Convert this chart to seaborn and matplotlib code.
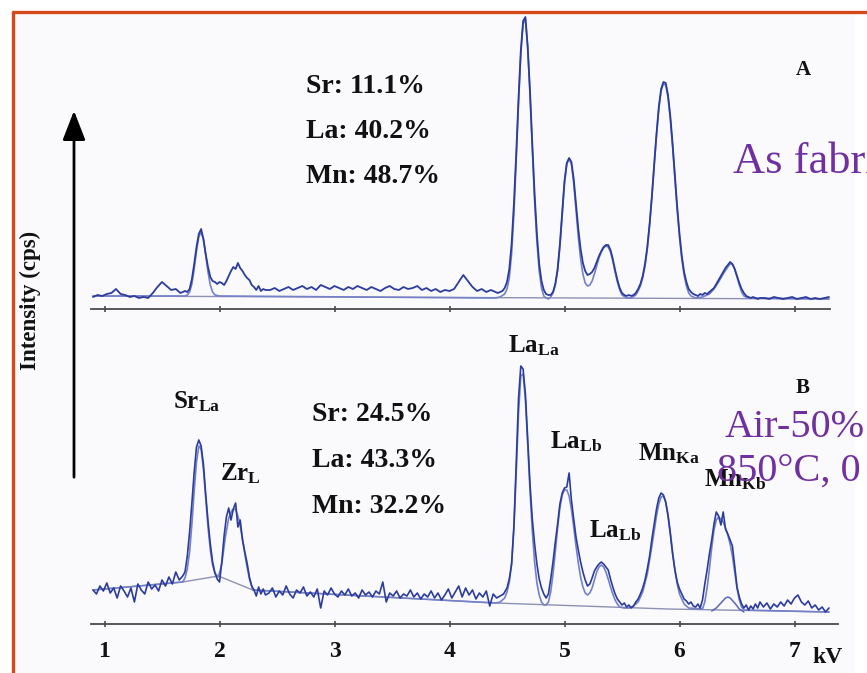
import matplotlib
matplotlib.use("Agg")
import matplotlib.pyplot as plt
from matplotlib.lines import Line2D
from matplotlib.patches import FancyArrowPatch, Rectangle
import seaborn as sns

# ---------------- data (energy in kV, intensity in arbitrary counts) ----------------
# Panel A (as fabricated) - measured spectrum
a_kv = [
    0.90, 0.94, 0.98, 1.02, 1.06, 1.10, 1.14, 1.18, 1.22, 1.26,
    1.30, 1.34, 1.38, 1.42, 1.46, 1.50, 1.54, 1.58, 1.62, 1.66,
    1.70,
    1.72, 1.74, 1.76, 1.78, 1.80, 1.82, 1.84, 1.86, 1.88, 1.90,
    1.92, 1.94, 1.96, 1.98, 2.00, 2.02, 2.04, 2.06, 2.08, 2.10,
    2.12, 2.14, 2.16, 2.18, 2.20, 2.22, 2.24, 2.26, 2.28, 2.30,
    2.32, 2.34, 2.36, 2.38, 2.40,
    2.44, 2.48, 2.52, 2.56, 2.60, 2.64, 2.68, 2.72, 2.76, 2.80,
    2.84, 2.88, 2.92, 2.96, 3.00, 3.04, 3.08, 3.12, 3.16, 3.20,
    3.24, 3.28, 3.32, 3.36, 3.40, 3.44, 3.48, 3.52, 3.56, 3.60,
    3.64, 3.68, 3.72, 3.76, 3.80, 3.84, 3.88, 3.92, 3.96, 4.00,
    4.04, 4.08, 4.12, 4.16, 4.20, 4.24, 4.28, 4.32, 4.36, 4.40,
    4.42, 4.44, 4.46, 4.48, 4.50, 4.52, 4.54, 4.56, 4.58, 4.60,
    4.62, 4.64, 4.66, 4.68, 4.70, 4.72, 4.74, 4.76, 4.78, 4.80,
    4.82, 4.84, 4.86, 4.88, 4.90, 4.92, 4.94, 4.96, 4.98, 5.00,
    5.02, 5.04, 5.06, 5.08, 5.10, 5.12, 5.14, 5.16, 5.18, 5.20,
    5.22, 5.24, 5.26, 5.28, 5.30, 5.32, 5.34, 5.36, 5.38, 5.40,
    5.42, 5.44, 5.46, 5.48, 5.50, 5.52, 5.54, 5.56, 5.58, 5.60,
    5.62, 5.64, 5.66, 5.68, 5.70, 5.72, 5.74, 5.76, 5.78, 5.80,
    5.82, 5.84, 5.86, 5.88, 5.90, 5.92, 5.94, 5.96, 5.98, 6.00,
    6.02, 6.04, 6.06, 6.08, 6.10, 6.12, 6.14, 6.16, 6.18, 6.20,
    6.22, 6.24, 6.26, 6.28, 6.30, 6.32, 6.34, 6.36, 6.38, 6.40,
    6.42, 6.44, 6.46, 6.48, 6.50, 6.52, 6.54, 6.56, 6.58, 6.60,
    6.62, 6.64, 6.66, 6.68, 6.70,
    6.74, 6.78, 6.82, 6.86, 6.90, 6.94, 6.98, 7.02, 7.06, 7.10,
    7.14, 7.18, 7.22, 7.26, 7.30,
]
a_cps = [
    12, 14, 13, 15, 16, 20, 15, 14, 12, 13,
    11, 12, 11, 16, 22, 27, 23, 19, 20, 16,
    18,
    17, 20, 30, 45, 62, 75, 80, 70, 55, 42,
    32, 28, 27, 25, 27, 26, 24, 28, 33, 38,
    42, 40, 46, 41, 38, 34, 31, 29, 24, 22,
    19, 23, 18, 20, 19,
    19, 21, 18, 20, 22, 19, 21, 23, 20, 22,
    19, 24, 22, 20, 23, 21, 19, 22, 20, 23,
    21, 19, 22, 20, 18, 21, 23, 20, 19, 22,
    20, 21, 23, 19, 21, 18, 20, 17, 19, 18,
    20, 27, 34, 28, 22, 18, 20, 17, 19, 17,
    16, 17, 18, 21, 27, 40, 65, 105, 155, 210,
    258, 288, 292, 262, 218, 165, 115, 75, 45, 28,
    19, 15, 14, 14, 17, 25, 40, 65, 97, 128,
    146, 151, 147, 130, 105, 80, 60, 46, 38, 34,
    35, 37, 41, 47, 53, 58, 62, 64, 64, 59,
    50, 39, 29, 21, 16, 14, 13, 14, 13, 14,
    16, 20, 25, 33, 45, 62, 85, 113, 145, 175,
    202, 220, 227, 226, 214, 193, 165, 133, 102, 75,
    53, 37, 27, 20, 17, 15, 14, 13, 15, 14,
    16, 15, 17, 19, 21, 25, 29, 33, 37, 41,
    44, 47, 45, 40, 33, 26, 20, 16, 13, 12,
    11, 12, 11, 10, 11,
    11, 10, 12, 11, 10, 11, 12, 10, 11, 12,
    10, 11, 10, 11, 12,
]
# Panel A - fitted spectrum
fit_a_kv = [
    0.90, 1.70, 1.72, 1.74, 1.76, 1.78, 1.80, 1.82, 1.84, 1.86,
    1.88, 1.90, 1.92, 1.94, 1.96, 2.00, 4.40, 4.44, 4.48, 4.50,
    4.52, 4.54, 4.56, 4.58, 4.60, 4.62, 4.64, 4.66, 4.68, 4.70,
    4.72, 4.74, 4.76, 4.78, 4.80, 4.82, 4.84, 4.86, 4.88, 4.90,
    4.92, 4.94, 4.96, 4.98, 5.00, 5.02, 5.04, 5.06, 5.08, 5.10,
    5.12, 5.14, 5.16, 5.18, 5.20, 5.22, 5.24, 5.26, 5.28, 5.30,
    5.32, 5.34, 5.36, 5.38, 5.40, 5.42, 5.44, 5.46, 5.48, 5.50,
    5.54, 5.58, 5.62, 5.64, 5.66, 5.68, 5.70, 5.72, 5.74, 5.76,
    5.78, 5.80, 5.82, 5.84, 5.86, 5.88, 5.90, 5.92, 5.94, 5.96,
    5.98, 6.00, 6.02, 6.04, 6.06, 6.08, 6.10, 6.14, 6.20, 6.26,
    6.30, 6.34, 6.38, 6.42, 6.44, 6.46, 6.48, 6.50, 6.52, 6.54,
    6.56, 6.60, 7.30,
]
fit_a_cps = [
    13, 13, 14, 17, 25, 40, 58, 72, 77, 70,
    54, 37, 24, 17, 14, 13, 11, 12, 15, 20,
    31, 55, 95, 148, 205, 255, 285, 290, 262, 214,
    160, 108, 67, 38, 21, 13, 11, 10, 12, 16,
    24, 38, 62, 94, 126, 145, 150, 145, 126, 99,
    72, 50, 35, 26, 23, 24, 28, 35, 43, 51,
    57, 61, 63, 62, 57, 48, 37, 27, 19, 14,
    11, 11, 14, 18, 23, 31, 43, 60, 84, 112,
    143, 174, 200, 218, 225, 224, 212, 190, 162, 130,
    99, 72, 50, 34, 23, 16, 13, 11, 12, 15,
    20, 27, 35, 42, 45, 45, 40, 32, 24, 17,
    13, 11, 10,
]
bg_a_kv = [0.90, 7.30]
bg_a_cps = [13, 10]

# Panel B (Air-50%, 850 C) - measured spectrum
b_kv = [
    0.90, 0.93, 0.96, 0.99, 1.02, 1.05, 1.08, 1.11, 1.14, 1.17,
    1.20, 1.23, 1.26, 1.29, 1.32, 1.35, 1.38, 1.41, 1.44, 1.47,
    1.50, 1.53, 1.56, 1.59, 1.62, 1.65, 1.68,
    1.70, 1.72, 1.74, 1.76, 1.78, 1.80, 1.82, 1.84, 1.86, 1.88,
    1.90, 1.92, 1.94, 1.96, 1.98, 2.00, 2.02, 2.04, 2.06, 2.08,
    2.10, 2.12, 2.14, 2.16, 2.18, 2.20, 2.22, 2.24, 2.26, 2.28,
    2.30, 2.32, 2.34, 2.36, 2.38, 2.40,
    2.43, 2.46, 2.49, 2.52, 2.55, 2.58, 2.61, 2.64, 2.67, 2.70,
    2.73, 2.76, 2.79, 2.82, 2.85, 2.88, 2.91, 2.94, 2.97, 3.00,
    3.03, 3.06, 3.09, 3.12, 3.15, 3.18, 3.21, 3.24, 3.27, 3.30,
    3.33, 3.36, 3.39, 3.42, 3.45, 3.48, 3.51, 3.54, 3.57, 3.60,
    3.63, 3.66, 3.69, 3.72, 3.75, 3.78, 3.81, 3.84, 3.87, 3.90,
    3.93, 3.96, 3.99, 4.02, 4.05, 4.08, 4.11, 4.14, 4.17, 4.20,
    4.23, 4.26, 4.29, 4.32, 4.35, 4.38, 4.41, 4.44, 4.47, 4.50,
    4.52, 4.54, 4.56, 4.58, 4.60, 4.62, 4.64, 4.66, 4.68, 4.70,
    4.72, 4.74, 4.76, 4.78, 4.80, 4.82, 4.84, 4.86, 4.88, 4.90,
    4.92, 4.94, 4.96, 4.98, 5.00, 5.02, 5.04, 5.06, 5.08, 5.10,
    5.12, 5.14, 5.16, 5.18, 5.20, 5.22, 5.24, 5.26, 5.28, 5.30,
    5.32, 5.34, 5.36, 5.38, 5.40, 5.42, 5.44, 5.46, 5.48, 5.50,
    5.52, 5.54, 5.56, 5.58, 5.60, 5.62, 5.64, 5.66, 5.68, 5.70,
    5.72, 5.74, 5.76, 5.78, 5.80, 5.82, 5.84, 5.86, 5.88, 5.90,
    5.92, 5.94, 5.96, 5.98, 6.00, 6.02, 6.04, 6.06, 6.08, 6.10,
    6.12, 6.14, 6.16, 6.18, 6.20, 6.22, 6.24, 6.26, 6.28, 6.30,
    6.32, 6.34, 6.36, 6.38, 6.40, 6.42, 6.44, 6.46, 6.48, 6.50,
    6.52, 6.54, 6.56, 6.58, 6.60, 6.62, 6.64, 6.66, 6.68, 6.70,
    6.73, 6.76, 6.79, 6.82, 6.85, 6.88, 6.91, 6.94, 6.97, 7.00,
    7.03, 7.06, 7.09, 7.12, 7.15, 7.18, 7.21, 7.24, 7.27, 7.30,
]
b_cps = [
    34, 30, 38, 33, 41, 31, 36, 26, 38, 33,
    27, 36, 22, 40, 34, 30, 42, 35, 39, 33,
    44, 38, 47, 40, 52, 44, 48,
    52, 68, 92, 121, 152, 177, 184, 178, 160, 130,
    103, 80, 62, 51, 45, 42, 62, 88, 107, 116,
    104, 115, 121, 97, 104, 84, 72, 61, 47, 38,
    34, 28, 37, 30, 35, 29,
    31, 36, 27, 33, 29, 38, 30, 26, 34, 31,
    37, 28, 32, 27, 35, 16, 33, 29, 36, 30,
    27, 33, 29, 35, 28, 31, 26, 34, 29, 32,
    27, 33, 30, 42, 22, 31, 28, 33, 26, 30,
    28, 34, 27, 31, 25, 30, 27, 33, 26, 31,
    24, 29, 35, 26, 32, 38, 27, 36, 29, 34,
    25, 31, 27, 33, 18, 30, 26, 28, 30, 36,
    45, 60, 98, 160, 225, 258, 255, 230, 185, 140,
    105, 80, 60, 45, 36, 30, 26, 30, 45, 62,
    82, 100, 120, 131, 136, 137, 151, 124, 105, 87,
    74, 62, 52, 44, 38, 40, 46, 53, 57, 60,
    62, 60, 57, 54, 45, 37, 30, 25, 22, 19,
    21, 17, 19, 16, 18, 22, 25, 30, 36, 44,
    55, 68, 85, 100, 115, 126, 131, 129, 122, 108,
    90, 70, 54, 42, 35, 30, 25, 23, 20, 22,
    18, 17, 20, 16, 24, 40, 54, 70, 84, 100,
    112, 108, 99, 112, 95, 90, 84, 78, 58, 37,
    27, 20, 16, 19, 14, 18, 15, 20, 16, 22,
    17, 21, 15, 20, 17, 22, 18, 24, 20, 26,
    29, 22, 19, 23, 16, 19, 14, 17, 12, 16,
]
# Panel B - fitted spectrum
fit_b_kv = [
    0.90, 1.30, 1.68, 1.70, 1.72, 1.74, 1.76, 1.78, 1.80, 1.82,
    1.84, 1.86, 1.88, 1.90, 1.92, 1.94, 1.96, 1.99, 2.02, 2.05,
    2.08, 2.11, 2.14, 2.17, 2.20, 2.23, 2.26, 2.29, 4.40, 4.44,
    4.48, 4.50, 4.52, 4.54, 4.56, 4.58, 4.60, 4.62, 4.64, 4.66,
    4.68, 4.70, 4.72, 4.74, 4.76, 4.78, 4.80, 4.82, 4.84, 4.86,
    4.88, 4.90, 4.92, 4.94, 4.96, 4.98, 5.00, 5.02, 5.04, 5.06,
    5.08, 5.10, 5.12, 5.14, 5.16, 5.18, 5.20, 5.22, 5.24, 5.26,
    5.28, 5.30, 5.32, 5.34, 5.36, 5.38, 5.40, 5.42, 5.44, 5.46,
    5.48, 5.52, 5.56, 5.60, 5.64, 5.68, 5.72, 5.76, 5.80, 5.82,
    5.84, 5.86, 5.88, 5.90, 5.92, 5.94, 5.96, 5.98, 6.00, 6.04,
    6.08, 6.20, 6.22, 6.24, 6.26, 6.28, 6.30, 6.32, 6.34, 6.36,
    6.38, 6.40, 6.42, 6.44, 6.46, 6.48, 6.50, 6.52, 6.54, 6.56,
    7.30,
]
fit_b_cps = [
    34, 38, 42, 46, 55, 72, 100, 133, 162, 178,
    175, 155, 126, 97, 74, 59, 51, 47, 60, 86,
    106, 114, 115, 104, 85, 63, 45, 34, 21, 22,
    26, 32, 42, 60, 95, 150, 210, 248, 250, 224,
    180, 133, 93, 62, 41, 29, 22, 19, 19, 22,
    32, 50, 72, 96, 116, 129, 134, 134, 128, 115,
    97, 78, 61, 47, 37, 31, 29, 31, 36, 44,
    52, 57, 59, 57, 52, 45, 37, 30, 24, 20,
    17, 16, 16, 18, 22, 32, 50, 78, 108, 120,
    127, 128, 122, 110, 92, 72, 54, 40, 30, 20,
    16, 15, 22, 36, 55, 76, 94, 104, 107, 105,
    102, 96, 89, 80, 68, 52, 36, 24, 17, 14,
    12,
]
# Panel B - Mn Kb component and background
comp_b_kv = [6.28, 6.32, 6.36, 6.40, 6.42, 6.44, 6.48, 6.52, 6.56]
comp_b_cps = [13, 16, 21, 26, 27, 26, 21, 15, 12]
bg_b_kv = [0.90, 1.68, 1.99, 2.29, 4.40, 5.90, 7.30]
bg_b_cps = [34, 42, 48, 34, 21, 15, 12]

tick_kv = [1, 2, 3, 4, 5, 6, 7]
tick_labels = ["1", "2", "3", "4", "5", "6", "7"]
comp_a = ["Sr: 11.1%", "La: 40.2%", "Mn: 48.7%"]
comp_b = ["Sr: 24.5%", "La: 43.3%", "Mn: 32.2%"]
peak_labels = [r"$\mathbf{Sr}_{\mathbf{La}}$", r"$\mathbf{Zr}_{\mathbf{L}}$",
               r"$\mathbf{La}_{\mathbf{La}}$", r"$\mathbf{La}_{\mathbf{Lb}}$",
               r"$\mathbf{La}_{\mathbf{Lb}}$", r"$\mathbf{Mn}_{\mathbf{Ka}}$",
               r"$\mathbf{Mn}_{\mathbf{Kb}}$"]

# ---------------- style ----------------
sns.set_theme(style="white")
plt.rcParams["font.family"] = ["Liberation Serif", "DejaVu Sans"]
plt.rcParams["mathtext.fontset"] = "custom"
plt.rcParams["mathtext.rm"] = "Liberation Serif:bold"
plt.rcParams["mathtext.bf"] = "Liberation Serif:bold"
plt.rcParams["mathtext.it"] = "Liberation Serif:bold"

W, H = 867, 673
fig = plt.figure(figsize=(W / 100, H / 100), dpi=100)
fig.patch.set_facecolor("white")


def fx(p):
    return p / W


def fy(p):
    return 1 - p / H


# slide panel background + red border
fig.patches.append(Rectangle((fx(13), 0), fx(855) - fx(13), fy(12), transform=fig.transFigure,
                             facecolor="#fafafc", edgecolor="none", zorder=-5))
BORDER = "#d4481c"
fig.add_artist(Line2D([fx(13), fx(13)], [fy(12), 0], transform=fig.transFigure, color=BORDER, lw=2.4, zorder=5))
fig.add_artist(Line2D([fx(13), 1], [fy(12), fy(12)], transform=fig.transFigure, color=BORDER, lw=2.4, zorder=5))

XMIN = 1 + (91 - 104.5) / 115
XMAX = 1 + (838 - 104.5) / 115

MEAS = "#2c3c9c"
FIT = "#7480c8"
BG = "#8d91b2"
AXC = "#4a4a4a"

ax_a = fig.add_axes([fx(91), fy(309), (838 - 91) / W, (309 - 12) / H])
ax_b = fig.add_axes([fx(91), fy(624), (838 - 91) / W, (624 - 320) / H])

for ax, ymax in ((ax_a, 297), (ax_b, 304)):
    ax.set_zorder(2)
    ax.set_xlim(XMIN, XMAX)
    ax.set_ylim(0, ymax)
    ax.patch.set_alpha(0)
    for s in ("top", "right", "left"):
        ax.spines[s].set_visible(False)
    ax.spines["bottom"].set_color(AXC)
    ax.spines["bottom"].set_linewidth(1.3)
    ax.set_yticks([])
    ax.set_xticks(tick_kv)
    ax.tick_params(axis="x", direction="inout", length=5, width=1.2, color=AXC, bottom=True)

# spectra
sns.lineplot(x=bg_a_kv, y=bg_a_cps, ax=ax_a, color=BG, lw=1.0, estimator=None, sort=False)
sns.lineplot(x=fit_a_kv, y=fit_a_cps, ax=ax_a, color=FIT, lw=1.2, estimator=None, sort=False)
sns.lineplot(x=a_kv, y=a_cps, ax=ax_a, color=MEAS, lw=1.3, estimator=None, sort=False)

sns.lineplot(x=bg_b_kv, y=bg_b_cps, ax=ax_b, color=BG, lw=1.0, estimator=None, sort=False)
sns.lineplot(x=comp_b_kv, y=comp_b_cps, ax=ax_b, color="#5a67b8", lw=1.1, estimator=None, sort=False)
sns.lineplot(x=fit_b_kv, y=fit_b_cps, ax=ax_b, color=FIT, lw=1.2, estimator=None, sort=False)
sns.lineplot(x=b_kv, y=b_cps, ax=ax_b, color=MEAS, lw=1.2, estimator=None, sort=False)

for ax, ymax in ((ax_a, 297), (ax_b, 304)):
    ax.set_xlim(XMIN, XMAX)
    ax.set_ylim(0, ymax)
    ax.set_xlabel("")
    ax.set_ylabel("")
    ax.set_yticks([])
    ax.set_xticks(tick_kv)

ax_a.spines["bottom"].set_bounds(XMIN, 7.31)
ax_a.set_xticklabels([])
ax_b.set_xticklabels(tick_labels, fontsize=17, fontweight="bold", fontfamily="Liberation Serif", color="#111")
ax_b.tick_params(axis="x", pad=10)

BOLD = dict(fontfamily="Liberation Serif", fontweight="bold", color="#111")

# composition text
for txt, base in zip(comp_a, (93, 138, 183)):
    fig.text(fx(306), fy(base), txt, fontsize=20, va="baseline", ha="left", **BOLD)
for txt, base in zip(comp_b, (421, 467, 513)):
    fig.text(fx(312), fy(base), txt, fontsize=20, va="baseline", ha="left", **BOLD)

fig.text(fx(803), fy(75), "A", fontsize=15, va="baseline", ha="center", **BOLD)
fig.text(fx(803), fy(393), "B", fontsize=15, va="baseline", ha="center", **BOLD)

# peak labels (left, baseline in px)
peak_pos = [(173, 408), (220, 480), (508, 352), (550, 448), (589, 537), (638, 460), (704, 486)]
for lab, (px, py) in zip(peak_labels, peak_pos):
    fig.text(fx(px), fy(py), lab, fontsize=18, va="baseline", ha="left", color="#111")

# kV unit
fig.text(fx(812), fy(663), "kV", fontsize=17, va="baseline", ha="left", **BOLD)

# y label and arrow
fig.text(fx(30), fy(300), "Intensity (cps)", fontsize=16.5, rotation=90, va="center", ha="center", **BOLD)
fig.patches.append(FancyArrowPatch((fx(74), fy(480)), (fx(74), fy(108)), transform=fig.transFigure,
                                   arrowstyle="-|>,head_length=0.9,head_width=0.35", mutation_scale=20,
                                   lw=2.0, color="black"))

# slide annotations (purple)
PURPLE = "#7030a0"
fig.text(fx(733), fy(173), "As fabricated", fontsize=32, color=PURPLE, va="baseline", ha="left",
         fontfamily="Liberation Serif")
fig.text(fx(725), fy(437), "Air-50%", fontsize=29, color=PURPLE, va="baseline", ha="left",
         fontfamily="Liberation Serif")
fig.text(fx(717), fy(481), "850°C, 0", fontsize=29, color=PURPLE, va="baseline", ha="left",
         fontfamily="Liberation Serif")

fig.savefig("out.png", dpi=100)
